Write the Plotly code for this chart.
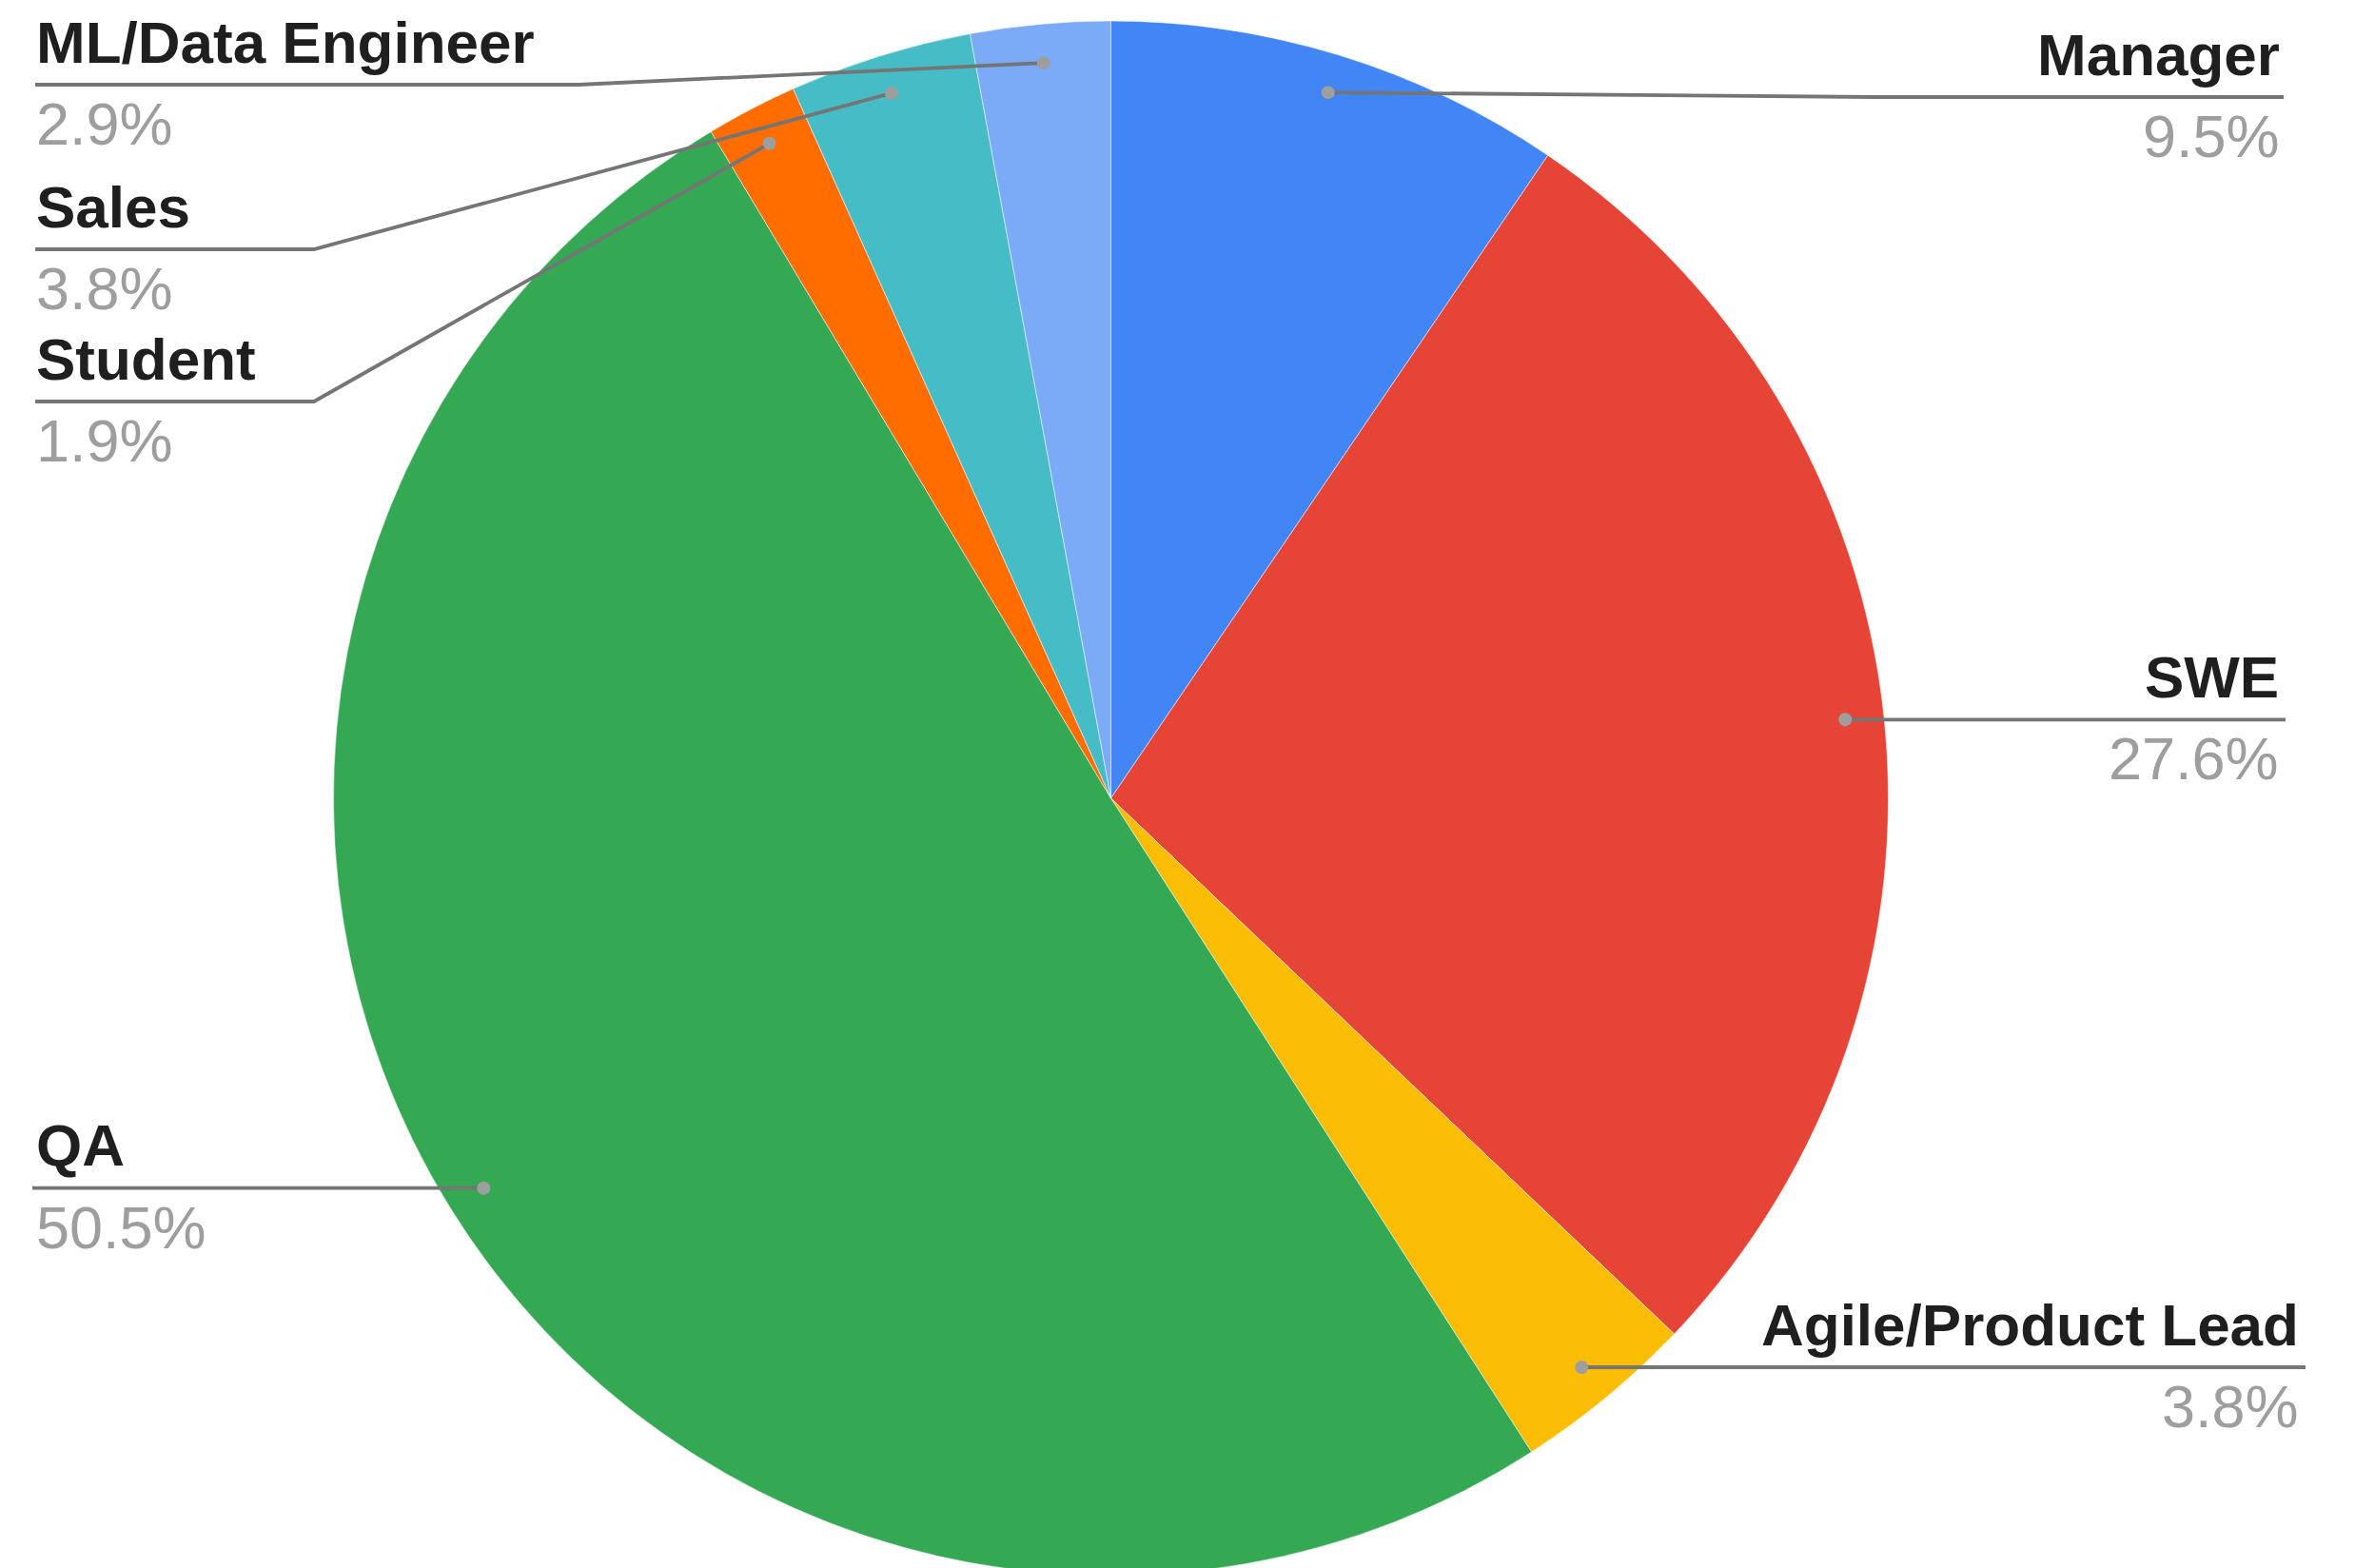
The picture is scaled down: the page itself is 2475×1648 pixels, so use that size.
import math
import plotly.graph_objects as go

# ---------------- data ----------------
roles = ["Manager", "SWE", "Agile/Product Lead", "QA", "Student", "Sales", "ML/Data Engineer"]
shares = [9.5, 27.6, 3.8, 50.5, 1.9, 3.8, 2.9]
slice_colors = ["#4285F4", "#E64436", "#FBBC04", "#34A853", "#FF6D01", "#46BDC6", "#7BAAF7"]

# ---------------- layout / style ----------------
W, H = 2475, 1648
OFF = 8                      # page body margin: screen = figure + OFF
PIE_TOP = 22                 # screen px
PIE_CX = 1167.5              # screen px
R = (H - (PIE_TOP - OFF)) / 2.0
PIE_CY = PIE_TOP + R         # screen px
DOT_FRAC = 0.95

# label placement (screen pixels): side, line y (None -> same as dot), text x, line end x, bend x
label_style = {
    "Manager":            dict(side="right", line_y=102,  text_x=2398, end_x=2400, bend_x=1970),
    "SWE":                dict(side="right", line_y=None, text_x=2397, end_x=2402, bend_x=None),
    "Agile/Product Lead": dict(side="right", line_y=None, text_x=2418, end_x=2423, bend_x=None),
    "QA":                 dict(side="left",  line_y=None, text_x=36,   end_x=34,   bend_x=None),
    "Student":            dict(side="left",  line_y=422,  text_x=36,   end_x=37,   bend_x=330),
    "Sales":              dict(side="left",  line_y=262,  text_x=36,   end_x=37,   bend_x=330),
    "ML/Data Engineer":   dict(side="left",  line_y=89,   text_x=36,   end_x=37,   bend_x=608),
}
NAME_FONT = dict(family="Liberation Sans, Arial, sans-serif", size=62, color="#1F1F1F")
PCT_FONT = dict(family="Liberation Sans, Arial, sans-serif", size=63, color="#9E9E9E")
LINE_COLOR = "#757575"
DOT_COLOR = "#9E9E9E"
DOT_R = 7

fig = go.Figure()

cx_fig = PIE_CX - OFF
fig.add_trace(go.Pie(
    labels=roles, values=shares, sort=False, direction="clockwise", rotation=0,
    marker=dict(colors=slice_colors, line=dict(color="rgba(255,255,255,0.5)", width=1)),
    textinfo="none", hoverinfo="label+percent", showlegend=False,
    domain=dict(x=[(cx_fig - R) / W, (cx_fig + R) / W], y=[0, 1 - (PIE_TOP - OFF) / H]),
))
# invisible trace so the cartesian axes exist
fig.add_trace(go.Scatter(x=[OFF], y=[OFF], mode="markers", marker=dict(opacity=0),
                         hoverinfo="skip", showlegend=False))

total = sum(shares)
cum = 0.0
annotations, shapes = [], []
for role, v in zip(roles, shares):
    mid = (cum + v / 2.0) / total * 2 * math.pi
    cum += v
    dx = PIE_CX + DOT_FRAC * R * math.sin(mid)
    dy = PIE_CY - DOT_FRAC * R * math.cos(mid)
    st = label_style[role]
    ly = st["line_y"] if st["line_y"] is not None else dy
    pts = [(dx, dy)]
    if st["bend_x"] is not None:
        pts.append((st["bend_x"], ly))
    pts.append((st["end_x"], ly))
    path = "M " + " L ".join(f"{px:.1f},{py:.1f}" for px, py in pts)
    shapes.append(dict(type="path", path=path, xref="x", yref="y", layer="above",
                       line=dict(color=LINE_COLOR, width=3.8)))
    shapes.append(dict(type="circle", xref="x", yref="y", layer="above",
                       x0=dx - DOT_R, x1=dx + DOT_R, y0=dy - DOT_R, y1=dy + DOT_R,
                       fillcolor=DOT_COLOR, line=dict(width=0)))
    anchor = "right" if st["side"] == "right" else "left"
    annotations.append(dict(x=st["text_x"], y=ly - 45, xref="x", yref="y", text=f"<b>{role}</b>",
                            showarrow=False, xanchor=anchor, yanchor="middle", font=NAME_FONT))
    annotations.append(dict(x=st["text_x"], y=ly + 41, xref="x", yref="y", text=f"{v:.1f}%",
                            showarrow=False, xanchor=anchor, yanchor="middle", font=PCT_FONT))

fig.update_layout(
    width=W, height=H, autosize=False,
    margin=dict(l=0, r=0, t=0, b=0),
    paper_bgcolor="white", plot_bgcolor="rgba(0,0,0,0)",
    xaxis=dict(range=[OFF, W + OFF], visible=False, fixedrange=True, domain=[0, 1]),
    yaxis=dict(range=[H + OFF, OFF], visible=False, fixedrange=True, domain=[0, 1]),
    annotations=annotations,
    shapes=shapes,
    showlegend=False,
)

fig.write_html("out.html")
